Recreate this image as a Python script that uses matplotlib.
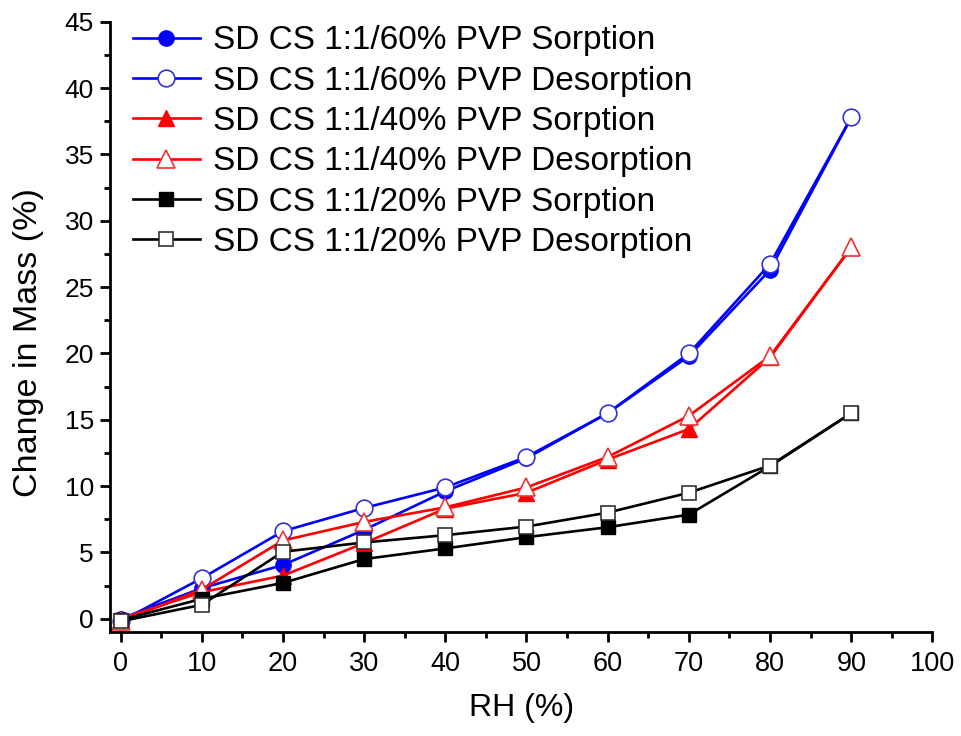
import matplotlib
matplotlib.use("Agg")
import matplotlib.pyplot as plt
from matplotlib.ticker import MultipleLocator

plt.rcParams['font.family'] = ['Liberation Sans', 'DejaVu Sans']

rh = [0, 10, 20, 30, 40, 50, 60, 70, 80, 90]
pvp60_sorp = [0.0, 2.3, 4.05, 6.7, 9.6, 12.1, 15.5, 19.8, 26.3, 37.8]
pvp60_desorp = [-0.2, 3.05, 6.6, 8.35, 9.9, 12.2, 15.5, 20.0, 26.75, 37.8]
pvp40_sorp = [0.0, 2.0, 3.25, 5.7, 8.3, 9.5, 12.0, 14.3, 19.7, 28.0]
pvp40_desorp = [-0.2, 2.2, 5.9, 7.3, 8.4, 9.9, 12.2, 15.3, 19.8, 28.0]
pvp20_sorp = [-0.1, 1.5, 2.7, 4.5, 5.3, 6.15, 6.9, 7.85, 11.5, 15.5]
pvp20_desorp = [-0.2, 1.05, 5.05, 5.75, 6.3, 6.95, 8.0, 9.5, 11.55, 15.5]

labels = ["SD CS 1:1/60% PVP Sorption", "SD CS 1:1/60% PVP Desorption",
          "SD CS 1:1/40% PVP Sorption", "SD CS 1:1/40% PVP Desorption",
          "SD CS 1:1/20% PVP Sorption", "SD CS 1:1/20% PVP Desorption"]

fig = plt.figure(figsize=(9.62, 7.36), dpi=100)
ax = fig.add_axes([0.1143, 0.1413, 0.855, 0.829])

blue = '#0000ff'
red = '#ff0000'
lw = 1.9
series = [
    (pvp60_sorp, dict(color=blue, marker='o', ms=11, mfc=blue, mec=blue)),
    (pvp60_desorp, dict(color=blue, marker='o', ms=12, mfc='white', mec='#3333dd', mew=1.2)),
    (pvp40_sorp, dict(color=red, marker='^', ms=12, mfc=red, mec=red)),
    (pvp40_desorp, dict(color=red, marker='^', ms=13, mfc='white', mec='#ee3333', mew=1.2)),
    (pvp20_sorp, dict(color='black', marker='s', ms=10, mfc='black', mec='black')),
    (pvp20_desorp, dict(color='black', marker='s', ms=10, mfc='white', mec='#333333', mew=1.2)),
]
handles = []
for (vals, kw), lab in zip(series, labels):
    h, = ax.plot(rh, vals, lw=lw, label=lab, **kw)
    handles.append(h)

ax.set_xlim(-1.3, 100)
ax.set_ylim(-1, 45)
ax.xaxis.set_major_locator(MultipleLocator(10))
ax.xaxis.set_minor_locator(MultipleLocator(5))
ax.yaxis.set_major_locator(MultipleLocator(5))
ax.yaxis.set_minor_locator(MultipleLocator(2.5))
for s in ['top', 'right']:
    ax.spines[s].set_visible(False)
for s in ['left', 'bottom']:
    ax.spines[s].set_linewidth(2)
ax.tick_params(which='major', direction='out', length=7.5, width=2)
ax.tick_params(which='minor', direction='out', length=4.5, width=2)
ax.tick_params(axis='x', which='major', labelsize=19.5, pad=6)
ax.tick_params(axis='y', which='major', labelsize=19, pad=4)

ax.set_xlabel("RH (%)", fontsize=23, labelpad=12)
ax.set_ylabel("Change in Mass (%)", fontsize=24.5)
ax.yaxis.set_label_coords(-0.08, 0.475)

leg = ax.legend(handles=handles, loc='upper left', bbox_to_anchor=(0.012, 1.016),
                frameon=False, fontsize=24, handlelength=2.0, handletextpad=0.4,
                labelspacing=0.28, borderaxespad=0.0)

fig.savefig("out.png", dpi=100)
